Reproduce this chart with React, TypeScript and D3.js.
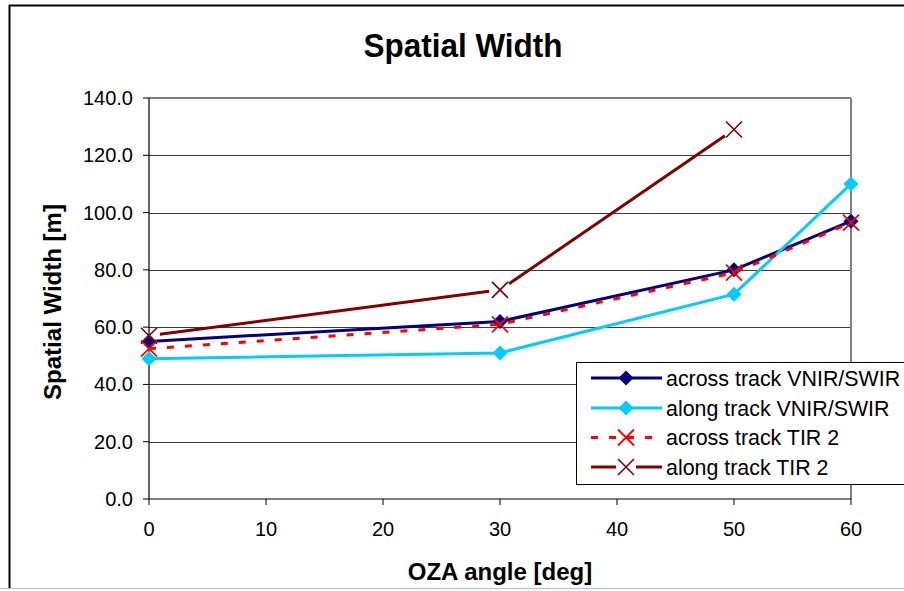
import React from "react";
import * as d3 from "d3";

// OZA angles (deg) and measured spatial widths (m)
const angles = [0, 30, 50, 60];
const acrossVnirSwir = [55, 62, 80, 97];
const alongVnirSwir = [49, 51, 71.5, 110];
const acrossTir2 = [52.5, 61, 79, 96.5];
const alongTirAngles = [0, 30, 50];
const alongTir2 = [57, 73, 129];

const yTicks = [0, 20, 40, 60, 80, 100, 120, 140];
const xTicks = [0, 10, 20, 30, 40, 50, 60];

const seriesNames = [
  "across track VNIR/SWIR",
  "along track VNIR/SWIR",
  "across track TIR 2",
  "along track TIR 2",
];

const W = 904;
const H = 591;
const FONT = "'Liberation Sans', Arial, sans-serif";

const x = d3.scaleLinear().domain([0, 60]).range([149, 851]);
const y = d3.scaleLinear().domain([0, 140]).range([499, 98]);

type Pt = [number, number];

function pts(xs: number[], ys: number[]): Pt[] {
  return xs.map((v, i) => [x(v), y(ys[i])] as Pt);
}

const lineGen = d3.line<Pt>().x((d) => d[0]).y((d) => d[1]);

function Diamond({ cx, cy, r, fill }: { cx: number; cy: number; r: number; fill: string }) {
  return (
    <path
      d={`M${cx},${cy - r}L${cx + r},${cy}L${cx},${cy + r}L${cx - r},${cy}Z`}
      fill={fill}
    />
  );
}

function Cross({ cx, cy, r, stroke, sw }: { cx: number; cy: number; r: number; stroke: string; sw: number }) {
  return (
    <path
      d={`M${cx - r},${cy - r}L${cx + r},${cy + r}M${cx - r},${cy + r}L${cx + r},${cy - r}`}
      stroke={stroke}
      strokeWidth={sw}
      fill="none"
    />
  );
}

// segments pulled back from each marker so the line leaves a gap around the cross
function gappedSegments(p: Pt[], gap: number): string[] {
  const out: string[] = [];
  for (let i = 0; i < p.length - 1; i++) {
    const [x0, y0] = p[i];
    const [x1, y1] = p[i + 1];
    const len = Math.hypot(x1 - x0, y1 - y0);
    const ux = (x1 - x0) / len;
    const uy = (y1 - y0) / len;
    out.push(
      lineGen([
        [x0 + ux * gap, y0 + uy * gap],
        [x1 - ux * gap, y1 - uy * gap],
      ]) as string
    );
  }
  return out;
}

const NAVY = "#000080";
const CYAN = "#00CCFF";
const RED = "#FF0000";
const DARKRED = "#800000";

export default function App() {
  const pNavy = pts(angles, acrossVnirSwir);
  const pCyan = pts(angles, alongVnirSwir);
  const pRed = pts(angles, acrossTir2);
  const pDark = pts(alongTirAngles, alongTir2);

  const legendRows = [378, 408, 437.5, 467];
  const lx0 = 591;
  const lx1 = 662;
  const lm = 626;

  return (
    <svg
      width={W}
      height={H}
      style={{ position: "fixed", left: 0, top: 0, background: "#fff" }}
      fontFamily={FONT}
    >
      {/* chart frame */}
      <line x1={9.5} y1={5} x2={9.5} y2={588} stroke="#000" strokeWidth={2} />
      <line x1={9} y1={5.5} x2={W} y2={5.5} stroke="#000" strokeWidth={2} />
      <line x1={0} y1={588.5} x2={W} y2={588.5} stroke="#c0c0c0" strokeWidth={1} />

      {/* title */}
      <text
        x={463}
        y={57}
        textAnchor="middle"
        fontSize={33}
        fontWeight="bold"
        textLength={199}
        lengthAdjust="spacingAndGlyphs"
      >
        Spatial Width
      </text>

      {/* gridlines */}
      {yTicks
        .filter((t) => t > 0 && t < 140)
        .map((t) => (
          <line
            key={`g${t}`}
            x1={x(0)}
            x2={x(60)}
            y1={Math.round(y(t)) + 0.5}
            y2={Math.round(y(t)) + 0.5}
            stroke="#3c3c3c"
            strokeWidth={1}
          />
        ))}

      {/* plot border (top and right) */}
      <line x1={x(0)} x2={x(60)} y1={y(140)} y2={y(140)} stroke="#808080" strokeWidth={2} />
      <line x1={x(60)} x2={x(60)} y1={y(140)} y2={y(0)} stroke="#808080" strokeWidth={2} />

      {/* axes */}
      <line x1={x(0)} x2={x(0)} y1={y(140)} y2={y(0)} stroke="#000" strokeWidth={1.2} />
      <line x1={x(0)} x2={x(60)} y1={y(0)} y2={y(0)} stroke="#000" strokeWidth={1.2} />
      {yTicks.map((t) => (
        <g key={`yt${t}`}>
          <line x1={x(0) - 6} x2={x(0)} y1={y(t)} y2={y(t)} stroke="#000" strokeWidth={1} />
          <text x={133} y={y(t) + 7} textAnchor="end" fontSize={20}>
            {t.toFixed(1)}
          </text>
        </g>
      ))}
      {xTicks.map((t) => (
        <g key={`xt${t}`}>
          <line x1={x(t)} x2={x(t)} y1={y(0)} y2={y(0) + 6} stroke="#000" strokeWidth={1} />
          <text x={x(t)} y={536} textAnchor="middle" fontSize={20}>
            {t}
          </text>
        </g>
      ))}

      {/* axis titles */}
      <text x={500} y={580} textAnchor="middle" fontSize={24} fontWeight="bold">
        OZA angle [deg]
      </text>
      <text
        transform="translate(61,302) rotate(-90)"
        textAnchor="middle"
        fontSize={24}
        fontWeight="bold"
      >
        Spatial Width [m]
      </text>

      {/* across track VNIR/SWIR */}
      <path d={lineGen(pNavy) as string} fill="none" stroke={NAVY} strokeWidth={3} />
      {pNavy.map((p, i) => (
        <Diamond key={`n${i}`} cx={p[0]} cy={p[1]} r={7.5} fill={NAVY} />
      ))}

      {/* along track VNIR/SWIR */}
      <path d={lineGen(pCyan) as string} fill="none" stroke={CYAN} strokeWidth={3} />
      {pCyan.map((p, i) => (
        <Diamond key={`c${i}`} cx={p[0]} cy={p[1]} r={7.5} fill={CYAN} />
      ))}

      {/* across track TIR 2 */}
      <path
        d={lineGen(pRed) as string}
        fill="none"
        stroke={RED}
        strokeWidth={3}
        strokeDasharray="7 11"
      />
      {pRed.map((p, i) => (
        <Cross key={`r${i}`} cx={p[0]} cy={p[1]} r={8} stroke={RED} sw={1.8} />
      ))}

      {/* along track TIR 2 */}
      {gappedSegments(pDark, 11).map((d, i) => (
        <path key={`ds${i}`} d={d} fill="none" stroke={DARKRED} strokeWidth={3} />
      ))}
      {pDark.map((p, i) => (
        <Cross key={`d${i}`} cx={p[0]} cy={p[1]} r={8} stroke={DARKRED} sw={1.6} />
      ))}

      {/* legend */}
      <rect x={576.5} y={362.5} width={340} height={122} fill="#fff" stroke="#000" strokeWidth={1} />
      {seriesNames.map((name, i) => {
        const ly = legendRows[i];
        let sample: React.ReactNode = null;
        if (i === 0 || i === 1) {
          const col = i === 0 ? NAVY : CYAN;
          sample = (
            <g>
              <line x1={lx0} x2={lx1} y1={ly} y2={ly} stroke={col} strokeWidth={3} />
              <Diamond cx={lm} cy={ly} r={7.5} fill={col} />
            </g>
          );
        } else if (i === 2) {
          sample = (
            <g>
              <line x1={lx0} x2={lx1} y1={ly} y2={ly} stroke={RED} strokeWidth={3} strokeDasharray="7 11" />
              <Cross cx={lm} cy={ly} r={8} stroke={RED} sw={1.8} />
            </g>
          );
        } else {
          sample = (
            <g>
              <line x1={lx0} x2={lm - 10} y1={ly} y2={ly} stroke={DARKRED} strokeWidth={3} />
              <line x1={lm + 10} x2={lx1} y1={ly} y2={ly} stroke={DARKRED} strokeWidth={3} />
              <Cross cx={lm} cy={ly} r={8} stroke={DARKRED} sw={1.6} />
            </g>
          );
        }
        return (
          <g key={name}>
            {sample}
            <text x={666} y={ly + 7.5} fontSize={21.4}>
              {name}
            </text>
          </g>
        );
      })}
    </svg>
  );
}
